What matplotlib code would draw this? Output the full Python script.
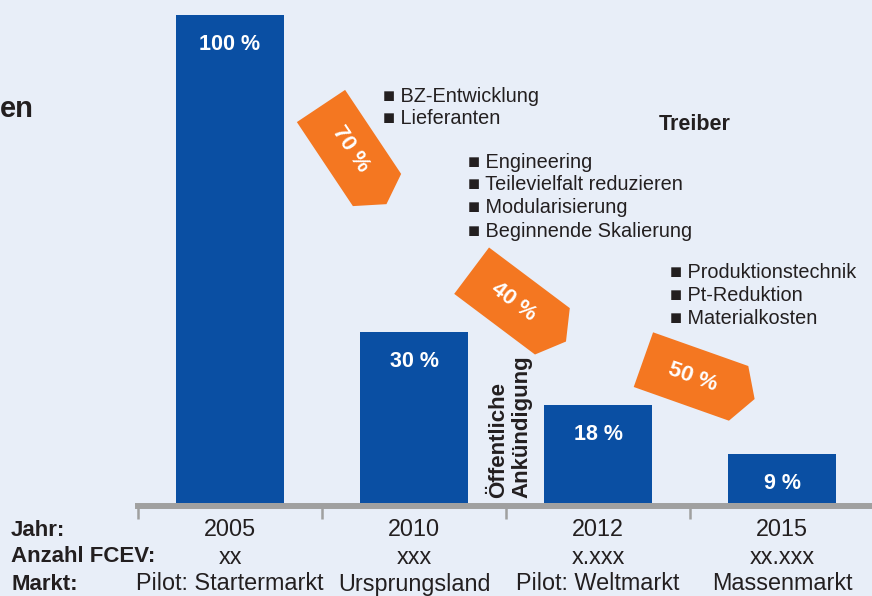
import matplotlib
matplotlib.use("Agg")
import matplotlib.pyplot as plt
from matplotlib.patches import Polygon
from matplotlib.transforms import blended_transform_factory
import numpy as np

# ---------------- data ----------------
years = ["2005", "2010", "2012", "2015"]
fcev_counts = ["xx", "xxx", "x.xxx", "xx.xxx"]
markets = ["Pilot: Startermarkt", "Ursprungsland", "Pilot: Weltmarkt", "Massenmarkt"]
bar_heights = [100, 35, 20, 10]          # drawn heights (as in the picture)
bar_labels = ["100 %", "30 %", "18 %", "9 %"]
row_titles = ["Jahr:", "Anzahl FCEV:", "Markt:"]
reduction_labels = ["70 %", "40 %", "50 %"]
drivers_1 = ["BZ-Entwicklung", "Lieferanten"]
drivers_2 = ["Engineering", "Teilevielfalt reduzieren", "Modularisierung", "Beginnende Skalierung"]
drivers_3 = ["Produktionstechnik", "Pt-Reduktion", "Materialkosten"]
announcement = "Öffentliche\nAnkündigung"

# ---------------- style ----------------
W, H = 872, 596
BG = "#e8eef8"
BLUE = "#0a4fa3"
ORANGE = "#f47721"
DARK = "#231f20"
GRAY = "#a0a0a0"
FONT = ["Liberation Sans", "DejaVu Sans"]
plt.rcParams["font.family"] = FONT

fig = plt.figure(figsize=(W / 100, H / 100), dpi=100, facecolor=BG)

def fx(px):
    return px / W

def fy(py):
    return 1 - py / H

# axes: left at px 138, bottom at px 503, top at px 0
ax_left, ax_bottom, ax_top = 138, 503, 0
ax = fig.add_axes([fx(ax_left), fy(ax_bottom), fx(W - ax_left), (ax_bottom - ax_top) / H])
ax.set_facecolor("none")
x = np.arange(len(years))
ax.bar(x, bar_heights, width=0.587, color=BLUE, zorder=3)
ax.set_xlim(-0.5, 3.489)
ax.set_ylim(0, 503 / 4.88)

for s in ["top", "right", "left"]:
    ax.spines[s].set_visible(False)
ax.spines["bottom"].set_color(GRAY)
ax.spines["bottom"].set_linewidth(4.3)
ax.spines["bottom"].set_position(("outward", 2.2))
ax.set_yticks([])
ax.set_xticks(np.arange(len(years)) - 0.5)
ax.set_xticklabels([])
ax.tick_params(axis="x", direction="out", length=9, width=1.8, color=GRAY)

# bar value labels
for xi, h, lab in zip(x, bar_heights, bar_labels):
    ax.annotate(lab, (xi, h), xytext=(0, -21), textcoords="offset points",
                ha="center", va="center", color="white", fontsize=15.5,
                fontweight="bold")

# category rows
bt = blended_transform_factory(ax.transData, fig.transFigure)
row_y = [530, 557, 584]
for xi, yr, cnt, mk in zip(x, years, fcev_counts, markets):
    for val, ry in zip((yr, cnt, mk), row_y):
        ax.text(xi, fy(ry), val, transform=bt, ha="center", va="center",
                fontsize=16.8, color=DARK)
for t, ry in zip(row_titles, row_y):
    fig.text(fx(11), fy(ry), t, ha="left", va="center", fontsize=16,
             fontweight="bold", color=DARK)

# title fragment
fig.text(fx(0), fy(117), "en", ha="left", va="baseline", fontsize=21,
         fontweight="bold", color=DARK)

# orange reduction tags
def tag(cx, cy, ang, label):
    th = np.deg2rad(ang)
    u = np.array([np.cos(th), np.sin(th)])
    w = np.array([np.sin(th), -np.cos(th)])
    local = [(-50.5, -29), (-50.5, 29), (50.5, 29), (67.5, 0), (50.5, -29)]
    pts = [np.array([cx, cy]) + a * u + c * w for a, c in local]
    poly = Polygon([(fx(p[0]), fy(p[1])) for p in pts], closed=True,
                   transform=fig.transFigure, facecolor=ORANGE, edgecolor="none",
                   zorder=5)
    fig.patches.append(poly)
    fig.text(fx(cx + 2), fy(cy + 1), label, rotation=-ang, rotation_mode="anchor",
             ha="center", va="center", color="white", fontsize=16,
             fontweight="bold", zorder=6)

tag_pos = [(349, 148, 56.3), (512, 301, 36.9), (691, 376.5, 19.5)]
for (cx, cy, ang), lab in zip(tag_pos, reduction_labels):
    tag(cx, cy, ang, lab)

# driver lists
def bullets(x0, y0, items, step):
    for i, it in enumerate(items):
        fig.text(fx(x0), fy(y0 + i * step), "■ " + it, ha="left", va="center",
                 fontsize=14.3, color=DARK)

bullets(383, 96, drivers_1, 22.5)
bullets(468, 162, drivers_2, 23)
bullets(670, 273, drivers_3, 23)

fig.text(fx(694.5), fy(124), "Treiber", ha="center", va="center", fontsize=15.5,
         fontweight="bold", color=DARK)

# public announcement (vertical)
fig.text(fx(510), fy(498), announcement, rotation=90, ha="center", va="bottom",
         multialignment="left", fontsize=16, fontweight="bold", color=DARK,
         linespacing=1.12)

fig.savefig("out.png", dpi=100, facecolor=BG)
